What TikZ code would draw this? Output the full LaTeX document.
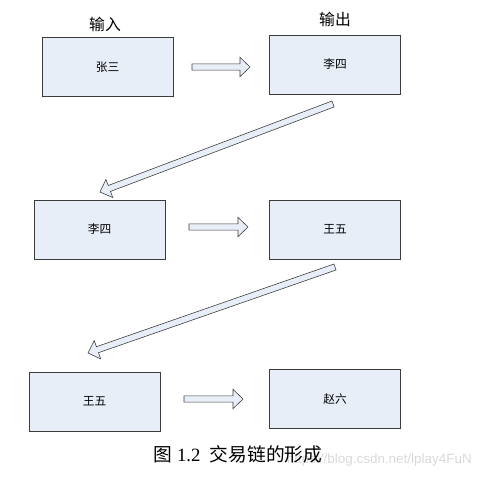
\documentclass[tikz,border=0pt]{standalone}
\usepackage{fontspec}
\setmainfont{Liberation Serif}
\setsansfont{Liberation Sans}
\newfontfamily\cjk{Noto Sans CJK SC}
\usetikzlibrary{calc}
\definecolor{boxfill}{RGB}{232,238,248}
\definecolor{boxline}{RGB}{60,60,60}
\tikzset{
  party/.style={draw=boxline,fill=boxfill,line width=.6pt,minimum width=3.93cm,
    minimum height=1.77cm,inner sep=0pt,font=\cjk\fontsize{10}{12}\selectfont},
  blockarrow/.style={draw=boxline,fill=boxfill,line width=.5pt,line join=miter},
  role/.style={font=\cjk\fontsize{13.5}{15}\selectfont}
}
\def\shaftw{0.095cm}
\def\headw{0.29cm}
\def\headlen{0.3cm}
% block arrow from #1 to #2
\newcommand{\blockarrow}[2]{%
  \coordinate (ba-h) at ($(#2)!\headlen!(#1)$);
  \filldraw[blockarrow] ($(#1)!\shaftw!90:(#2)$) -- ($(ba-h)!\shaftw!90:(#2)$)
    -- ($(ba-h)!\headw!90:(#2)$) -- (#2) -- ($(ba-h)!\headw!-90:(#2)$)
    -- ($(ba-h)!\shaftw!-90:(#2)$) -- ($(#1)!\shaftw!-90:(#2)$) -- cycle;}
\begin{document}
\begin{tikzpicture}[x=0.03cm,y=-0.03cm]
  \useasboundingbox (0,0) rectangle (483,477);
  % boxes
  \node[party] (zs) at (107.5,67) {张三};
  \node[party] (ls1) at (335,64.5) {李四};
  \node[party] (ls2) at (99.5,229.5) {李四};
  \node[party] (ww1) at (335,229.5) {王五};
  \node[party] (ww2) at (94.5,401.5) {王五};
  \node[party] (zl) at (335,399) {赵六};
  \node[role] (in) at (105,24) {输入};
  \node[role] (out) at (335,19) {输出};
  % arrow ends
  \coordinate (a1s) at (192,67); \coordinate (a1e) at (250,67);
  \coordinate (a2s) at (333,104); \coordinate (a2e) at (100,192);
  \coordinate (a3s) at (189,227); \coordinate (a3e) at (248,227);
  \coordinate (a4s) at (335,267); \coordinate (a4e) at (88,353);
  \coordinate (a5s) at (184,399); \coordinate (a5e) at (243,399);
  \blockarrow{a1s}{a1e}
  \blockarrow{a2s}{a2e}
  \blockarrow{a3s}{a3e}
  \blockarrow{a4s}{a4e}
  \blockarrow{a5s}{a5e}
  % caption and watermark
  \node[font=\sffamily\fontsize{11.5}{13}\selectfont,text=gray!30,anchor=east] (wm)
    at (476,460) {https://blog.csdn.net/lplay4FuN};
  \node[font=\fontsize{16}{18}\selectfont] (cap) at (238,454)
    {{\cjk 图}\ 1.2\ \ {\cjk 交易链的形成}};
\end{tikzpicture}
\end{document}
